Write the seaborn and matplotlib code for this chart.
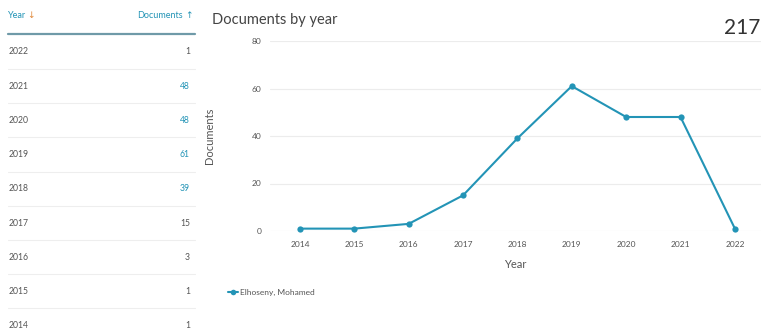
import pandas as pd
import matplotlib.pyplot as plt
import seaborn as sns
from matplotlib.lines import Line2D

# データ
years = [2014, 2015, 2016, 2017, 2018, 2019, 2020, 2021, 2022]
documents = [1, 1, 3, 15, 39, 61, 48, 48, 1]
total_docs = "217"
series_name = "Elhoseny, Mohamed"
y_ticks = [0, 20, 40, 60, 80]

teal = "#2394b6"
grey_text = "#555555"

sns.set_theme(style="white")
plt.rcParams["font.family"] = ["Lato", "DejaVu Sans"]

W, H = 761, 331
fig = plt.figure(figsize=(W / 100, H / 100), dpi=100)


def fx(px):
    return px / W


def fy(py):
    return 1 - py / H


# 左のテーブル
fig.text(fx(8), fy(16), "Year", color=teal, fontsize=6.5, va="center")
fig.text(fx(27), fy(16), "↓", color="#e0883a", fontsize=6.5, va="center",
         family=["DejaVu Sans"])
fig.text(fx(183), fy(16), "Documents", color=teal, fontsize=6.5, va="center", ha="right")
fig.text(fx(189), fy(16), "↑", color=teal, fontsize=6.5, va="center", ha="center",
         family=["DejaVu Sans"])
fig.add_artist(Line2D([fx(8), fx(195)], [fy(34), fy(34)], color="#6f9aa8", lw=1.6))

row_y0, row_dy = 52, 34.2
for i, (yr, n) in enumerate(zip(years[::-1], documents[::-1])):
    y = row_y0 + i * row_dy
    fig.text(fx(9), fy(y), str(yr), color=grey_text, fontsize=6.2, va="center")
    col = teal if n > 20 else grey_text
    fig.text(fx(190), fy(y), str(n), color=col, fontsize=6.2, va="center", ha="right")
    if i < len(years) - 1:
        fig.add_artist(Line2D([fx(8), fx(195)], [fy(y + 17), fy(y + 17)],
                              color="#eeeeee", lw=0.8))

# 折れ線グラフ
df = pd.DataFrame({"Year": years, "Documents": documents})
ax = fig.add_axes([fx(270), fy(231), fx(761) - fx(270), fy(41) - fy(231)])
sns.lineplot(data=df, x="Year", y="Documents", ax=ax, color=teal, marker="o",
             markersize=4.5, markeredgewidth=0, linewidth=1.5, clip_on=False)

ax.set_xlim(2013.45, 2022.48)
ax.set_ylim(0, 80)
ax.set_xticks(years)
ax.set_yticks(y_ticks)
ax.grid(axis="y", color="#ececec", linewidth=0.8)
ax.grid(axis="x", visible=False)
for s in ax.spines.values():
    s.set_visible(False)
ax.tick_params(axis="both", length=0, labelsize=6, labelcolor=grey_text)
ax.tick_params(axis="y", pad=6)
ax.tick_params(axis="x", pad=7)
ax.set_xlabel("Year", fontsize=8, color=grey_text)
ax.set_ylabel("Documents", fontsize=8, color=grey_text)
ax.xaxis.set_label_coords(0.5, -0.145)
ax.yaxis.set_label_coords(-0.113, 0.5)

fig.text(fx(212), fy(20), "Documents by year", fontsize=10.5, color="#444444", va="center")
fig.text(fx(760), fy(28), total_docs, fontsize=15, color="#333333", va="center", ha="right")

handle = Line2D([], [], color=teal, marker="o", markersize=4, markeredgewidth=0, lw=1.5)
fig.legend([handle], [series_name], loc="center left",
           bbox_to_anchor=(fx(220), fy(292)), frameon=False, fontsize=6,
           handlelength=1.2, handletextpad=0.3, labelcolor=grey_text)

fig.savefig("out.png", dpi=100)
